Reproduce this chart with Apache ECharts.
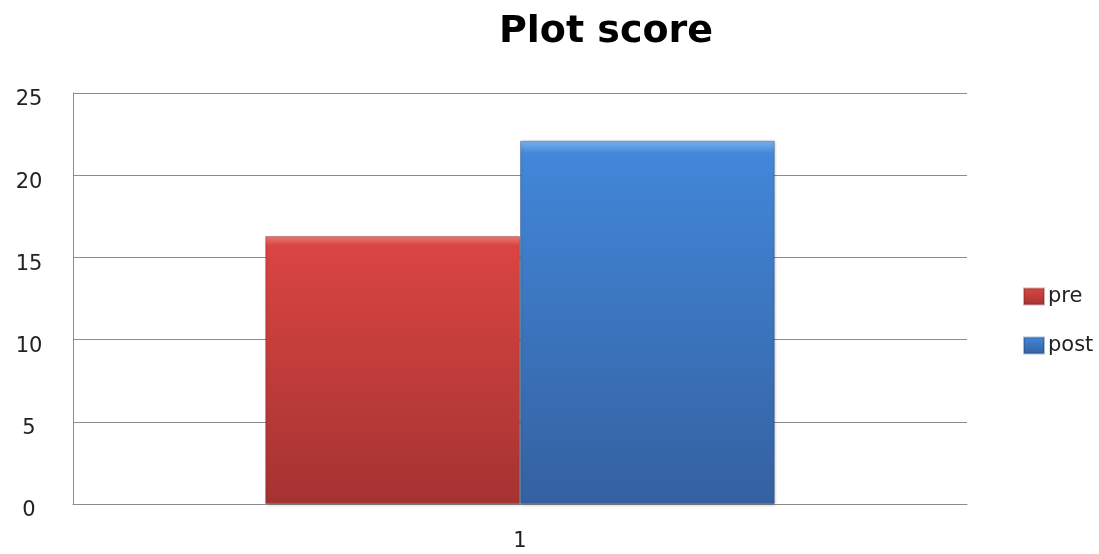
<!DOCTYPE html>
<html>
<head>
<meta charset="utf-8">
<script src="https://cdn.jsdelivr.net/npm/echarts@6/dist/echarts.min.js"></script>
<style>
  html, body { margin: 0; padding: 0; background: #fff; }
  #chart { width: 1099px; height: 554px; }
</style>
</head>
<body>
<div id="chart"></div>
<script>
// Chart data
const categories = ['1'];
const preValues = [16.3];
const postValues = [22.1];
const yTicks = { min: 0, max: 25, interval: 5 };

const FONT = '"DejaVu Sans", "Noto Sans", sans-serif';

// Vertical gradient with a thin light rim at the top of each bar
function bevel(top, mid, bottom) {
  return new echarts.graphic.LinearGradient(0, 0, 0, 1, [
    { offset: 0, color: top },
    { offset: 0.035, color: mid },
    { offset: 1, color: bottom }
  ]);
}

const chart = echarts.init(document.getElementById('chart'));
chart.setOption({
  backgroundColor: '#ffffff',
  animation: false,
  title: {
    text: 'Plot score',
    left: 601,
    textAlign: 'center',
    top: 8,
    textStyle: { fontFamily: FONT, fontSize: 38, fontWeight: 'bold', color: '#000' }
  },
  legend: {
    orient: 'vertical',
    left: 1018,
    top: 281,
    itemGap: 28,
    itemWidth: 20,
    itemHeight: 16,
    icon: 'rect',
    textStyle: { fontFamily: FONT, fontSize: 21, color: '#222', padding: [0, 0, 0, -1] },
    data: ['pre', 'post']
  },
  grid: { left: 73, right: 132, top: 93, bottom: 50, containLabel: false },
  xAxis: {
    type: 'category',
    data: categories,
    axisLine: { show: true, lineStyle: { color: '#8c8c8c', width: 1 } },
    axisTick: { show: false },
    axisLabel: { fontFamily: FONT, fontSize: 21, color: '#222', margin: 27 }
  },
  yAxis: {
    type: 'value',
    min: yTicks.min,
    max: yTicks.max,
    interval: yTicks.interval,
    axisLine: { show: true, lineStyle: { color: '#8c8c8c', width: 1 } },
    axisTick: { show: false },
    axisLabel: {
      fontFamily: FONT, fontSize: 21, color: '#222',
      margin: 44, align: 'center', verticalAlign: 'top', lineHeight: 14
    },
    splitLine: { lineStyle: { color: '#8c8c8c', width: 1 } }
  },
  series: [
    {
      name: 'pre',
      type: 'bar',
      data: preValues,
      barGap: '0%',
      barCategoryGap: '43%',
      itemStyle: {
        color: bevel('#ee7b78', '#d94542', '#a53332'),
        borderColor: 'rgba(120,30,30,0.35)',
        borderWidth: 1,
        shadowColor: 'rgba(0,0,0,0.25)',
        shadowBlur: 3,
        shadowOffsetX: 1,
        shadowOffsetY: 1
      }
    },
    {
      name: 'post',
      type: 'bar',
      data: postValues,
      itemStyle: {
        color: bevel('#7ab3ee', '#4287d9', '#3461a0'),
        borderColor: 'rgba(30,60,110,0.35)',
        borderWidth: 1,
        shadowColor: 'rgba(0,0,0,0.25)',
        shadowBlur: 3,
        shadowOffsetX: 1,
        shadowOffsetY: 1
      }
    }
  ]
});
</script>
</body>
</html>
